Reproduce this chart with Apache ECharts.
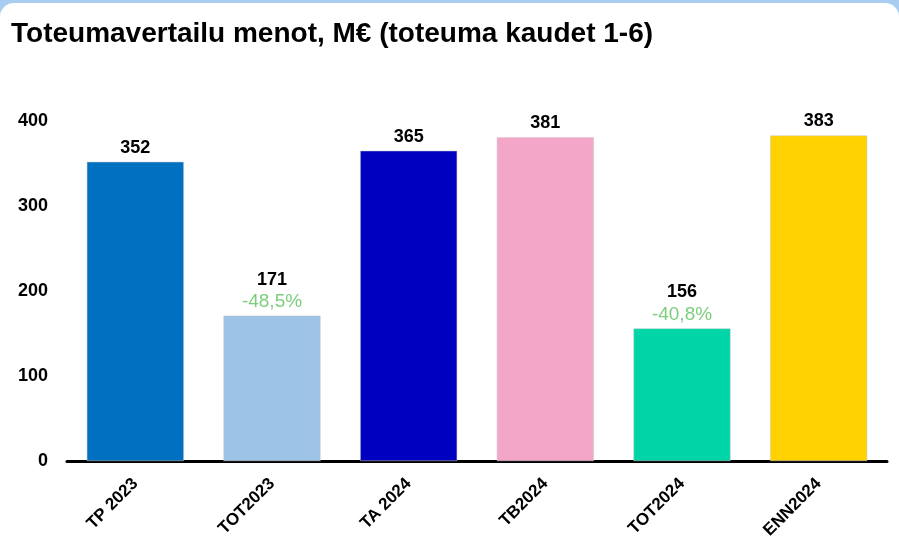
<!DOCTYPE html>
<html>
<head>
<meta charset="utf-8">
<script src="https://cdn.jsdelivr.net/npm/echarts@6/dist/echarts.min.js"></script>
<style>
  html, body { margin: 0; padding: 0; width: 899px; height: 557px; overflow: hidden; background: #a9cdf0; }
  .card { position: absolute; left: 0; top: 3px; width: 899px; height: 570px; background: #fff; border-radius: 14px; }
  #chart { width: 899px; height: 554px; }
</style>
</head>
<body>
<div class="card"><div id="chart"></div></div>
<script>
const categories = ['TP 2023', 'TOT2023', 'TA 2024', 'TB2024', 'TOT2024', 'ENN2024']
const values = [352, 171, 365, 381, 156, 383]
const changes = ['', '-48,5%', '', '', '-40,8%', '']
const colors = ['#0070c0', '#9dc3e6', '#0000c0', '#f4a6c8', '#00d5a8', '#ffd200']
const yTicks = [0, 100, 200, 300, 400]

const font = 'Liberation Sans, Arial, sans-serif'
const chart = echarts.init(document.getElementById('chart'))

chart.setOption({
  animation: false,
  textStyle: { fontFamily: font },
  title: {
    text: 'Toteumavertailu menot, M€ (toteuma kaudet 1-6)',
    left: 6,
    top: 12,
    textStyle: { fontSize: 28, fontWeight: 'bold', color: '#000', fontFamily: font }
  },
  grid: { left: 67, right: 12, top: 118, bottom: 96 },
  xAxis: {
    type: 'category',
    data: categories,
    axisLine: { lineStyle: { color: '#000', width: 3 } },
    axisTick: { show: false },
    axisLabel: {
      rotate: 45,
      color: '#000',
      fontWeight: 'bold',
      fontSize: 17,
      margin: 20,
      fontFamily: font
    }
  },
  yAxis: {
    type: 'value',
    min: yTicks[0],
    max: yTicks[yTicks.length - 1],
    interval: 100,
    splitLine: { show: false },
    axisLine: { show: false },
    axisTick: { show: false },
    axisLabel: { color: '#000', fontWeight: 'bold', fontSize: 18, margin: 19, fontFamily: font }
  },
  series: [{
    type: 'bar',
    barCategoryGap: '29%',
    data: values.map((v, i) => ({
      value: v,
      itemStyle: { color: colors[i], borderColor: '#c8c8c8', borderWidth: 0.5 },
      label: {
        show: true,
        position: 'top',
        distance: 3,
        formatter: changes[i] ? '{a|' + v + '}\n{b|' + changes[i] + '}' : '{a|' + v + '}',
        rich: {
          a: { fontSize: 18, fontWeight: 'bold', color: '#000', fontFamily: font, lineHeight: 22 },
          b: { fontSize: 19, color: '#7dcd7d', fontFamily: font, lineHeight: 22 }
        }
      }
    }))
  }]
})
</script>
</body>
</html>
